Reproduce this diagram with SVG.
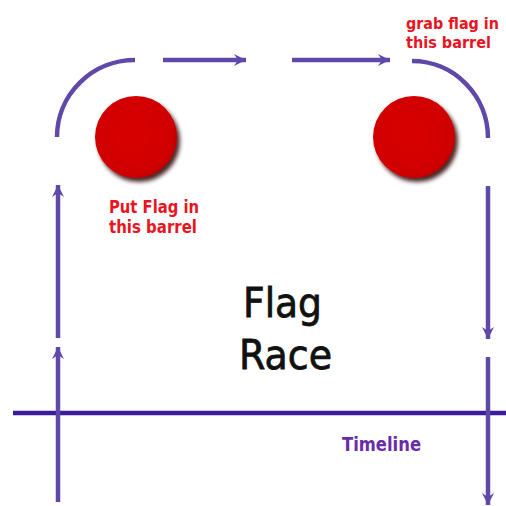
<svg xmlns="http://www.w3.org/2000/svg" width="506" height="506" viewBox="0 0 506 506">
<style>
.path{fill:none;stroke:#6048a8;stroke-width:4.5;stroke-linecap:butt}
.tl{fill:none;stroke:#3a1c9c;stroke-width:4.5}
.red{font-family:"DejaVu Sans",sans-serif;font-weight:bold;font-size:17px;fill:#e8141e}
.red2{font-family:"DejaVu Sans",sans-serif;font-weight:bold;font-size:15px;fill:#e8141e}
.title{font-family:"DejaVu Sans",sans-serif;font-size:40px;fill:#111;stroke:#111;stroke-width:0.8}
.tlabel{font-family:"DejaVu Sans",sans-serif;font-weight:bold;font-size:19px;fill:#6a2ca8}
</style>
<defs>
<marker id="ah" viewBox="0 0 14 14" refX="13" refY="7" markerWidth="14" markerHeight="14" markerUnits="userSpaceOnUse" orient="auto">
<path d="M1,1 L13,7 L1,13 L5,7 z" fill="#6048a8"/>
</marker>
<radialGradient id="rg" cx="0.45" cy="0.45" r="0.6">
<stop offset="0" stop-color="#d80404"/>
<stop offset="0.85" stop-color="#d00000"/>
<stop offset="1" stop-color="#a80000"/>
</radialGradient>
<filter id="sh" x="-30%" y="-30%" width="160%" height="160%">
<feDropShadow dx="3" dy="4" stdDeviation="2" flood-color="#2a0000" flood-opacity="0.85"/>
</filter>
</defs>
<rect width="506" height="506" fill="#ffffff"/>
<g id="connectors">
<line class="tl" x1="13" y1="413" x2="506" y2="413"/>
<path class="path" d="M57,137 A78,77 0 0 1 135,60"/>
<line class="path" x1="163" y1="60" x2="246" y2="60" marker-end="url(#ah)"/>
<line class="path" x1="292" y1="60" x2="390" y2="60" marker-end="url(#ah)"/>
<path class="path" d="M412,61 A76,77 0 0 1 488,138"/>
<line class="path" x1="488" y1="186" x2="488" y2="339" marker-end="url(#ah)"/>
<line class="path" x1="488" y1="357" x2="488" y2="505" marker-end="url(#ah)"/>
<line class="path" x1="58" y1="502" x2="58" y2="347" marker-end="url(#ah)"/>
<line class="path" x1="58" y1="338" x2="58" y2="185" marker-end="url(#ah)"/>
</g>
<g id="barrel-left">
<circle cx="136" cy="137" r="41" fill="url(#rg)" filter="url(#sh)"/>
</g>
<g id="barrel-right">
<circle cx="414" cy="137" r="41" fill="url(#rg)" filter="url(#sh)"/>
</g>
<g id="label-put">
<text class="red" x="109" y="213" textLength="90" lengthAdjust="spacingAndGlyphs">Put Flag in</text>
<text class="red" x="109" y="233" textLength="88" lengthAdjust="spacingAndGlyphs">this barrel</text>
</g>
<g id="label-grab">
<text class="red2" x="406" y="29" textLength="93" lengthAdjust="spacingAndGlyphs">grab flag in</text>
<text class="red2" x="406" y="48" textLength="85" lengthAdjust="spacingAndGlyphs">this barrel</text>
</g>
<g id="title">
<text class="title" x="243" y="317" textLength="79" lengthAdjust="spacingAndGlyphs">Flag</text>
<text class="title" x="239" y="369" textLength="93" lengthAdjust="spacingAndGlyphs">Race</text>
</g>
<g id="timeline-label">
<text class="tlabel" x="342" y="451" textLength="79" lengthAdjust="spacingAndGlyphs">Timeline</text>
</g>
</svg>
